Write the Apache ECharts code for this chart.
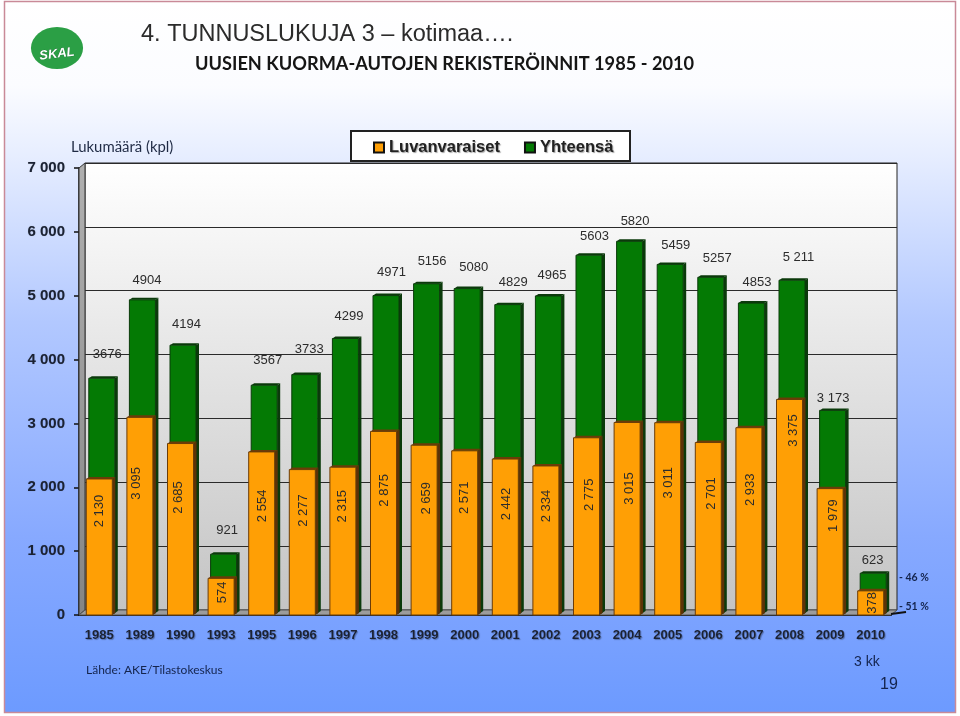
<!DOCTYPE html>
<html><head><meta charset="utf-8"><style>html,body{margin:0;padding:0;background:#fff}#c{width:960px;height:716px}</style>
<script src="https://cdn.jsdelivr.net/npm/echarts@6/dist/echarts.min.js"></script></head>
<body><div id="c"></div>
<script>
const years = ['1985','1989','1990','1993','1995','1996','1997','1998','1999','2000','2001','2002','2003','2004','2005','2006','2007','2008','2009','2010'];
const luvanvaraiset = [2130,3095,2685,574,2554,2277,2315,2875,2659,2571,2442,2334,2775,3015,3011,2701,2933,3375,1979,378];
const yhteensa = [3676,4904,4194,921,3567,3733,4299,4971,5156,5080,4829,4965,5603,5820,5459,5257,4853,5211,3173,623];
const luvanvaraisetLabels = ['2 130','3 095','2 685','574','2 554','2 277','2 315','2 875','2 659','2 571','2 442','2 334','2 775','3 015','3 011','2 701','2 933','3 375','1 979','378'];
const yhteensaLabels = ['3676','4904','4194','921','3567','3733','4299','4971','5156','5080','4829','4965','5603','5820','5459','5257','4853','5 211','3 173','623'];
const yTicks = [0,1000,2000,3000,4000,5000,6000];

function render(){
  const GREEN='#047a04', GREEN_SIDE='#0b3a0b', ORANGE='#ff9f05', ORANGE_SIDE='#5c3208';
  const totalNudge=[[8,-24],[7,-19],[6,-21],[6,-24],[6,-25],[7,-25],[6,-22],[8,-23],[8,-22],[9,-21],[8,-22],[6,-21],[8,-19],[8,-20],[8,-19],[9,-19],[8,-21],[9,-23],[3,-12],[2,-13]];
  const partNudge=[[0,32],[-3,66],[-2,54],[1,14],[1,54],[1,41],[0,39],[1,59],[2,53],[0,47],[1,45],[1,40],[3,57],[2,66],[1,60],[3,51],[2,62],[4,31],[3,27],[2,12]];

  function bar(front,side,cap,shiftX,shiftY,labels,nudge,vertical){
    return function(params,api){
      const i=api.value(0), p=api.coord([i,api.value(1)]), base=api.coord([i,0]);
      const w=26, d=3, x=p[0]-w/2+shiftX, y=p[1]+shiftY, by=base[1]+shiftY;
      const n=nudge[i];
      const children=[
        {type:'polygon',shape:{points:[[x+w,y],[x+w+d,y-2],[x+w+d,by-2],[x+w,by]]},style:{fill:side}},
        {type:'polygon',shape:{points:[[x,y],[x+d,y-2],[x+w+d,y-2],[x+w,y]]},style:{fill:cap}},
        {type:'rect',shape:{x:x,y:y,width:w,height:by-y},style:{fill:front,stroke:cap,lineWidth:1}}
      ];
      return {type:'group',children:children.concat([{
        type:'text',z2:20,x:p[0]+n[0],y:p[1]+n[1]+(vertical?0:shiftY),rotation:vertical?Math.PI/2:0,
        style:{text:labels[i],font:'13px "Liberation Sans"',fill:'#2c2c2c',align:'center',verticalAlign:'middle'}
      }])};
    };
  }
  const toData=a=>a.map((v,i)=>[i,v]);
  const chart=echarts.init(document.getElementById('c'),null,{renderer:'canvas'});
  const ff='"Liberation Sans"';
  chart.setOption({
    animation:false,
    backgroundColor:{type:'linear',x:0,y:0,x2:0,y2:1,colorStops:[{offset:0,color:'#ffffff'},{offset:0.12,color:'#fbfcff'},{offset:0.22,color:'#e6edff'},{offset:0.45,color:'#b2c8ff'},{offset:0.75,color:'#87a9ff'},{offset:1,color:'#6c9aff'}]},
    legend:{left:373,top:139,padding:0,itemGap:24,itemWidth:10,itemHeight:10,icon:'rect',z:8,
      orient:'horizontal',data:['Luvanvaraiset','Yhteensä'],
      selectedMode:false,textStyle:{fontFamily:ff,fontSize:16.5,fontWeight:'bold',color:'#222',padding:[0,0,0,0],textShadowColor:'rgba(0,0,0,0.35)',textShadowBlur:1,textShadowOffsetX:1,textShadowOffsetY:1}},
    grid:[
      {left:79,top:168,width:812,height:447,show:false},
      {left:85,top:163,width:812,height:447,show:true,borderColor:'#222',borderWidth:1,
       backgroundColor:{type:'linear',x:0,y:0,x2:0,y2:1,colorStops:[{offset:0,color:'#ffffff'},{offset:1,color:'#c4c4c4'}]}}
    ],
    xAxis:[
      {type:'category',gridIndex:0,data:years,axisLine:{lineStyle:{color:'#111',width:2}},axisTick:{length:4,lineStyle:{color:'#111',width:1.5}},
       axisLabel:{margin:14,interval:0,fontFamily:ff,fontSize:13,fontWeight:'bold',color:'#1b2233',textShadowColor:'rgba(0,0,0,0.3)',textShadowBlur:1,textShadowOffsetX:1,textShadowOffsetY:1}},
      {type:'category',gridIndex:1,data:years,show:false}
    ],
    yAxis:[
      {type:'value',gridIndex:0,min:0,max:7000,interval:1000,splitLine:{show:false},
       axisLine:{show:true,lineStyle:{color:'#111',width:1.5}},axisTick:{show:true,length:5,lineStyle:{color:'#111',width:1.5}},
       axisLabel:{margin:14,fontFamily:ff,fontSize:15,fontWeight:'bold',color:'#1b2233',formatter:v=>String(v).replace(/(\d)(\d{3})$/,'$1 $2'),textShadowColor:'rgba(0,0,0,0.25)',textShadowBlur:1}},
      {type:'value',gridIndex:1,min:0,max:7000,interval:1000,axisLine:{show:false},axisTick:{show:false},axisLabel:{show:false},splitLine:{show:true,lineStyle:{color:'#2a2a2a',width:1}}}
    ],
    graphic:[
      {type:'rect',z:1,shape:{x:351,y:131,width:279,height:30},style:{fill:'#fff',stroke:'#222',lineWidth:2}},
      {type:'polygon',z:1,shape:{points:[[79,615],[85,610],[85,163],[79,168]]},style:{fill:{type:'linear',x:0,y:0,x2:0,y2:1,colorStops:[{offset:0,color:'#b0b0b0'},{offset:1,color:'#858585'}]},stroke:'#333',lineWidth:1}},
      {type:'polygon',z:1,shape:{points:[[79,615],[891,615],[897,610],[85,610]]},style:{fill:'#9c9c9c',stroke:'#555',lineWidth:1}},
      {type:'line',z:1,shape:{x1:891,y1:614,x2:906,y2:612},style:{stroke:'#111',lineWidth:2}},
      {type:'group',z:1,children:yTicks.map(t=>({type:'line',shape:{x1:79,y1:615-t*447/7000,x2:85,y2:610-t*447/7000},style:{stroke:'#222',lineWidth:1}}))},
      {type:'rect',z:10,shape:{x:2,y:-1,width:956,height:716},style:{fill:'none',stroke:'#fff',lineWidth:4}},
      {type:'rect',z:10,shape:{x:4.5,y:1.5,width:951,height:711},style:{fill:'none',stroke:'#c98a98',lineWidth:1.5}},
      {type:'circle',z:5,x:57,y:48,scaleX:1.24,shape:{cx:0,cy:0,r:21},style:{fill:'#2b9f45'}},
      {type:'text',z:6,x:57,y:54,rotation:0.12,style:{text:'SKAL',font:'italic bold 13px "Liberation Sans"',fill:'#fff',stroke:'#14602a',lineWidth:0.5,align:'center',verticalAlign:'middle'}},
      {type:'text',z:6,x:141,y:35,style:{text:'4. TUNNUSLUKUJA 3 – kotimaa….',font:'23.5px "Liberation Sans"',fill:'#2b2b2b',verticalAlign:'middle'}},
      {type:'text',z:6,x:195,y:64,style:{text:'UUSIEN KUORMA-AUTOJEN REKISTERÖINNIT 1985 - 2010',font:'bold 18.2px Lato',fill:'#151515',verticalAlign:'middle'}},
      {type:'text',z:6,x:71,y:147,style:{text:'Lukumäärä (kpl)',font:'14.9px Lato',fill:'#1f2a44',verticalAlign:'middle'}},
      {type:'text',z:6,x:86,y:670,style:{text:'Lähde: AKE/Tilastokeskus',font:'12px Lato',fill:'#14244d',verticalAlign:'middle'}},
      {type:'text',z:6,x:899,y:578,style:{text:'- 46 %',font:'bold 10.5px Lato',fill:'#14244d',verticalAlign:'middle'}},
      {type:'text',z:6,x:899,y:607,style:{text:'- 51 %',font:'bold 10.5px Lato',fill:'#14244d',verticalAlign:'middle'}},
      {type:'text',z:6,x:854,y:662,style:{text:'3 kk',font:'14px "Liberation Sans"',fill:'#14244d',verticalAlign:'middle'}},
      {type:'text',z:6,x:880,y:685,style:{text:'19',font:'16px "Liberation Sans"',fill:'#14244d',verticalAlign:'middle'}}
    ],
    series:[
      {name:'Yhteensä',type:'custom',xAxisIndex:0,yAxisIndex:0,z:3,clip:false,itemStyle:{color:GREEN,borderColor:'#111',borderWidth:1},
       encode:{x:0,y:1},data:toData(yhteensa),renderItem:bar(GREEN,GREEN_SIDE,'#0b3a0b',2.5,-2,yhteensaLabels,totalNudge,false)},
      {name:'Luvanvaraiset',type:'custom',xAxisIndex:0,yAxisIndex:0,z:4,clip:false,itemStyle:{color:ORANGE,borderColor:'#111',borderWidth:1},
       encode:{x:0,y:1},data:toData(luvanvaraiset),renderItem:bar(ORANGE,ORANGE_SIDE,'#6b3c08',0,0,luvanvaraisetLabels,partNudge,true)}
    ]
  });
}
render();
</script></body></html>
